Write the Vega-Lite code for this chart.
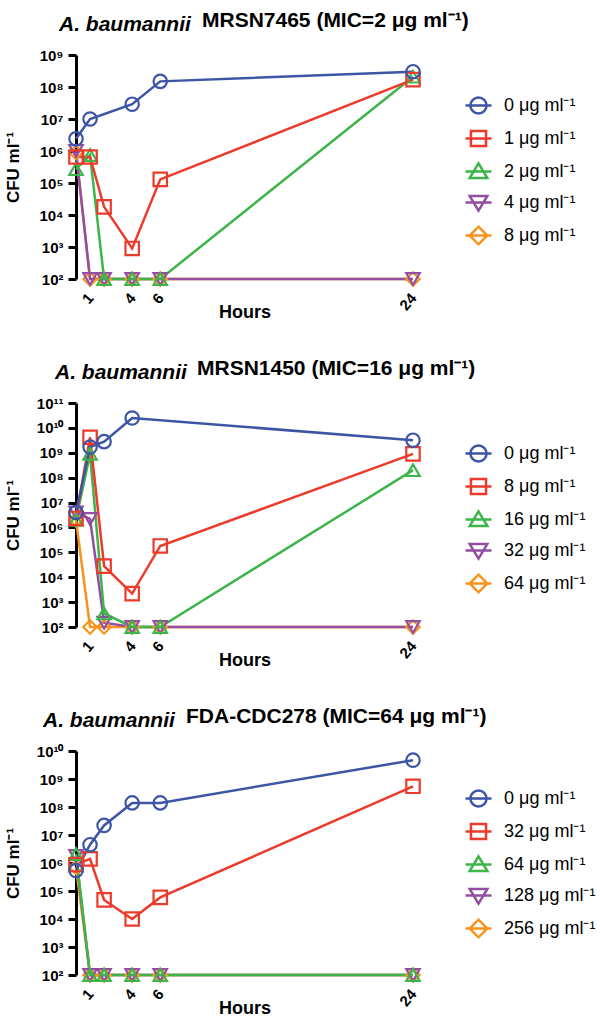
{
  "$schema": "https://vega.github.io/schema/vega-lite/v6.json",
  "padding": {"left": 4, "top": 10, "right": 0, "bottom": 0},
  "background": "white",
  "config": {
    "font": "Liberation Sans",
    "view": {"stroke": null},
    "title": {"font": "Liberation Sans", "fontSize": 21, "fontWeight": "bold", "color": "black", "baseline": "alphabetic", "anchor": "start", "frame": "group"},
    "axis": {"labelFont": "Liberation Sans", "titleFont": "Liberation Sans", "labelColor": "black", "titleColor": "black", "labelFontWeight": "bold", "titleFontWeight": "bold", "grid": false},
    "axisY": {"domainColor": "black", "domainWidth": 3, "tickColor": "black", "tickWidth": 3, "tickSize": 8, "labelFontSize": 15, "labelPadding": 5, "titleFontSize": 17, "titleX": -58, "titleBaseline": "alphabetic", "labelExpr": "'10' + ['⁰','¹','²','³','⁴','⁵','⁶','⁷','⁸','⁹','¹⁰','¹¹'][round(log(datum.value)/LN10)]"},
    "axisX": {"domain": false, "ticks": false, "tickSize": 0, "labelAngle": -50, "labelAlign": "right", "labelBaseline": "middle", "labelPadding": 16, "labelFontSize": 15, "titleFontSize": 18, "titleY": 38, "titleBaseline": "alphabetic"},
    "legend": {"orient": "none", "direction": "vertical", "padding": 0, "symbolSize": 676, "symbolStrokeWidth": 2.5, "labelFontSize": 18, "labelOffset": 11, "rowPadding": 5, "labelColor": "black", "labelFont": "Liberation Sans", "labelLimit": 200}
  },
  "datasets": {
    "p1": [
      {"h": 0, "cfu": 900000, "conc": "8 μg ml⁻¹"},
      {"h": 1, "cfu": 100, "conc": "8 μg ml⁻¹"},
      {"h": 2, "cfu": 100, "conc": "8 μg ml⁻¹"},
      {"h": 4, "cfu": 100, "conc": "8 μg ml⁻¹"},
      {"h": 6, "cfu": 100, "conc": "8 μg ml⁻¹"},
      {"h": 24, "cfu": 100, "conc": "8 μg ml⁻¹"},
      {"h": 0, "cfu": 1000000, "conc": "4 μg ml⁻¹"},
      {"h": 1, "cfu": 100, "conc": "4 μg ml⁻¹"},
      {"h": 2, "cfu": 100, "conc": "4 μg ml⁻¹"},
      {"h": 4, "cfu": 100, "conc": "4 μg ml⁻¹"},
      {"h": 6, "cfu": 100, "conc": "4 μg ml⁻¹"},
      {"h": 24, "cfu": 100, "conc": "4 μg ml⁻¹"},
      {"h": 0, "cfu": 270000, "conc": "2 μg ml⁻¹"},
      {"h": 1, "cfu": 750000, "conc": "2 μg ml⁻¹"},
      {"h": 2, "cfu": 100, "conc": "2 μg ml⁻¹"},
      {"h": 4, "cfu": 100, "conc": "2 μg ml⁻¹"},
      {"h": 6, "cfu": 100, "conc": "2 μg ml⁻¹"},
      {"h": 24, "cfu": 210000000, "conc": "2 μg ml⁻¹"},
      {"h": 0, "cfu": 650000, "conc": "1 μg ml⁻¹"},
      {"h": 1, "cfu": 650000, "conc": "1 μg ml⁻¹"},
      {"h": 2, "cfu": 18000, "conc": "1 μg ml⁻¹"},
      {"h": 4, "cfu": 900, "conc": "1 μg ml⁻¹"},
      {"h": 6, "cfu": 130000, "conc": "1 μg ml⁻¹"},
      {"h": 24, "cfu": 170000000, "conc": "1 μg ml⁻¹"},
      {"h": 0, "cfu": 2400000, "conc": "0 μg ml⁻¹"},
      {"h": 1, "cfu": 10000000, "conc": "0 μg ml⁻¹"},
      {"h": 4, "cfu": 29000000, "conc": "0 μg ml⁻¹"},
      {"h": 6, "cfu": 150000000, "conc": "0 μg ml⁻¹"},
      {"h": 24, "cfu": 300000000, "conc": "0 μg ml⁻¹"}
    ],
    "p2": [
      {"h": 0, "cfu": 2000000, "conc": "64 μg ml⁻¹"},
      {"h": 1, "cfu": 100, "conc": "64 μg ml⁻¹"},
      {"h": 2, "cfu": 100, "conc": "64 μg ml⁻¹"},
      {"h": 4, "cfu": 100, "conc": "64 μg ml⁻¹"},
      {"h": 6, "cfu": 100, "conc": "64 μg ml⁻¹"},
      {"h": 24, "cfu": 100, "conc": "64 μg ml⁻¹"},
      {"h": 0, "cfu": 4000000, "conc": "32 μg ml⁻¹"},
      {"h": 1, "cfu": 2200000, "conc": "32 μg ml⁻¹"},
      {"h": 2, "cfu": 150, "conc": "32 μg ml⁻¹"},
      {"h": 4, "cfu": 100, "conc": "32 μg ml⁻¹"},
      {"h": 6, "cfu": 100, "conc": "32 μg ml⁻¹"},
      {"h": 24, "cfu": 100, "conc": "32 μg ml⁻¹"},
      {"h": 0, "cfu": 2000000, "conc": "16 μg ml⁻¹"},
      {"h": 1, "cfu": 900000000, "conc": "16 μg ml⁻¹"},
      {"h": 2, "cfu": 350, "conc": "16 μg ml⁻¹"},
      {"h": 4, "cfu": 100, "conc": "16 μg ml⁻¹"},
      {"h": 6, "cfu": 100, "conc": "16 μg ml⁻¹"},
      {"h": 24, "cfu": 200000000, "conc": "16 μg ml⁻¹"},
      {"h": 0, "cfu": 2300000, "conc": "8 μg ml⁻¹"},
      {"h": 1, "cfu": 4200000000, "conc": "8 μg ml⁻¹"},
      {"h": 2, "cfu": 28000, "conc": "8 μg ml⁻¹"},
      {"h": 4, "cfu": 2200, "conc": "8 μg ml⁻¹"},
      {"h": 6, "cfu": 180000, "conc": "8 μg ml⁻¹"},
      {"h": 24, "cfu": 900000000, "conc": "8 μg ml⁻¹"},
      {"h": 0, "cfu": 4000000, "conc": "0 μg ml⁻¹"},
      {"h": 1, "cfu": 1700000000, "conc": "0 μg ml⁻¹"},
      {"h": 2, "cfu": 2800000000, "conc": "0 μg ml⁻¹"},
      {"h": 4, "cfu": 25000000000, "conc": "0 μg ml⁻¹"},
      {"h": 24, "cfu": 3200000000, "conc": "0 μg ml⁻¹"}
    ],
    "p3": [
      {"h": 0, "cfu": 700000, "conc": "256 μg ml⁻¹"},
      {"h": 1, "cfu": 100, "conc": "256 μg ml⁻¹"},
      {"h": 2, "cfu": 100, "conc": "256 μg ml⁻¹"},
      {"h": 4, "cfu": 100, "conc": "256 μg ml⁻¹"},
      {"h": 6, "cfu": 100, "conc": "256 μg ml⁻¹"},
      {"h": 24, "cfu": 100, "conc": "256 μg ml⁻¹"},
      {"h": 0, "cfu": 1800000, "conc": "128 μg ml⁻¹"},
      {"h": 1, "cfu": 100, "conc": "128 μg ml⁻¹"},
      {"h": 2, "cfu": 100, "conc": "128 μg ml⁻¹"},
      {"h": 4, "cfu": 100, "conc": "128 μg ml⁻¹"},
      {"h": 6, "cfu": 100, "conc": "128 μg ml⁻¹"},
      {"h": 24, "cfu": 100, "conc": "128 μg ml⁻¹"},
      {"h": 0, "cfu": 2100000, "conc": "64 μg ml⁻¹"},
      {"h": 1, "cfu": 100, "conc": "64 μg ml⁻¹"},
      {"h": 2, "cfu": 100, "conc": "64 μg ml⁻¹"},
      {"h": 4, "cfu": 100, "conc": "64 μg ml⁻¹"},
      {"h": 6, "cfu": 100, "conc": "64 μg ml⁻¹"},
      {"h": 24, "cfu": 100, "conc": "64 μg ml⁻¹"},
      {"h": 0, "cfu": 870000, "conc": "32 μg ml⁻¹"},
      {"h": 1, "cfu": 1400000, "conc": "32 μg ml⁻¹"},
      {"h": 2, "cfu": 48000, "conc": "32 μg ml⁻¹"},
      {"h": 4, "cfu": 10000, "conc": "32 μg ml⁻¹"},
      {"h": 6, "cfu": 59000, "conc": "32 μg ml⁻¹"},
      {"h": 24, "cfu": 550000000, "conc": "32 μg ml⁻¹"},
      {"h": 0, "cfu": 540000, "conc": "0 μg ml⁻¹"},
      {"h": 1, "cfu": 4500000, "conc": "0 μg ml⁻¹"},
      {"h": 2, "cfu": 22000000, "conc": "0 μg ml⁻¹"},
      {"h": 4, "cfu": 140000000, "conc": "0 μg ml⁻¹"},
      {"h": 6, "cfu": 140000000, "conc": "0 μg ml⁻¹"},
      {"h": 24, "cfu": 4700000000, "conc": "0 μg ml⁻¹"}
    ]
  },
  "spacing": 37,
  "resolve": {"scale": {"color": "independent", "shape": "independent"}},
  "vconcat": [
    {
      "title": {"text": "MRSN7465 (MIC=2 μg ml⁻¹)", "dx": 126, "dy": 17, "offset": 0},
      "resolve": {"scale": {"color": "independent", "shape": "independent"}},
      "vconcat": [
        {
          "width": 337, "height": 224,
          "data": {"name": "p1"},
          "title": {"text": "A. baumannii", "fontStyle": "italic", "dx": -17, "offset": 13},
          "encoding": {
            "x": {"field": "h", "type": "quantitative", "scale": {"domain": [0, 24], "nice": false, "zero": false}, "axis": {"values": [1, 4, 6, 24], "title": "Hours"}},
            "y": {"field": "cfu", "type": "quantitative", "scale": {"type": "log", "domain": [100, 1000000000], "nice": false}, "axis": {"values": [100, 1000, 10000, 100000, 1000000, 10000000, 100000000, 1000000000], "title": "CFU ml⁻¹"}}
          },
          "resolve": {"scale": {"color": "independent", "shape": "independent"}},
          "layer": [
            {
              "mark": {"type": "line", "strokeWidth": 2.5},
              "encoding": {"color": {"field": "conc", "type": "nominal", "scale": {"domain": ["0 μg ml⁻¹", "1 μg ml⁻¹", "2 μg ml⁻¹", "4 μg ml⁻¹", "8 μg ml⁻¹"], "range": ["#3D55A5", "#EC3A2B", "#3DB54A", "#924FA2", "#F7941D"]}, "legend": null}}
            },
            {
              "mark": {"type": "point", "filled": false, "strokeWidth": 2.2, "size": 180, "opacity": 1},
              "encoding": {
                "color": {"field": "conc", "type": "nominal", "scale": {"domain": ["0 μg ml⁻¹", "1 μg ml⁻¹", "2 μg ml⁻¹", "4 μg ml⁻¹", "8 μg ml⁻¹"], "range": ["#3D55A5", "#EC3A2B", "#3DB54A", "#924FA2", "#F7941D"]}, "legend": null},
                "shape": {"field": "conc", "type": "nominal", "scale": {"domain": ["0 μg ml⁻¹", "1 μg ml⁻¹", "2 μg ml⁻¹", "4 μg ml⁻¹", "8 μg ml⁻¹"], "range": ["circle", "square", "triangle-up", "triangle-down", "diamond"]}, "legend": null}
              }
            },
            {
              "mark": {"type": "point", "filled": false, "strokeWidth": 2.5, "opacity": 0},
              "encoding": {
                "color": {"field": "conc", "type": "nominal", "scale": {"domain": ["0 μg ml⁻¹", "1 μg ml⁻¹", "2 μg ml⁻¹", "4 μg ml⁻¹", "8 μg ml⁻¹"], "range": ["#3D55A5", "#EC3A2B", "#3DB54A", "#924FA2", "#F7941D"]}, "legend": {"title": null, "legendX": 388, "legendY": 36}},
                "shape": {"field": "conc", "type": "nominal", "scale": {"domain": ["0 μg ml⁻¹", "1 μg ml⁻¹", "2 μg ml⁻¹", "4 μg ml⁻¹", "8 μg ml⁻¹"], "range": ["M-1,0H1M0.62,0A0.62,0.62,0,1,1,-0.62,0A0.62,0.62,0,1,1,0.62,0Z", "M-1,0H1M-0.58,-0.58H0.58V0.58H-0.58Z", "M-1,0H1M0,-0.62L0.68,0.5L-0.68,0.5Z", "M-1,0H1M0,0.62L0.68,-0.5L-0.68,-0.5Z", "M-1,0H1M0,-0.68L0.68,0L0,0.68L-0.68,0Z"]}, "legend": {"title": null, "legendX": 388, "legendY": 36}}
              }
            }
          ]
        }
      ]
    },
    {
      "title": {"text": "MRSN1450 (MIC=16 μg ml⁻¹)", "dx": 121, "dy": 17, "offset": 0},
      "resolve": {"scale": {"color": "independent", "shape": "independent"}},
      "vconcat": [
        {
          "width": 337, "height": 224,
          "data": {"name": "p2"},
          "title": {"text": "A. baumannii", "fontStyle": "italic", "dx": -21, "offset": 13},
          "encoding": {
            "x": {"field": "h", "type": "quantitative", "scale": {"domain": [0, 24], "nice": false, "zero": false}, "axis": {"values": [1, 4, 6, 24], "title": "Hours"}},
            "y": {"field": "cfu", "type": "quantitative", "scale": {"type": "log", "domain": [100, 100000000000], "nice": false}, "axis": {"values": [100, 1000, 10000, 100000, 1000000, 10000000, 100000000, 1000000000, 10000000000, 100000000000], "title": "CFU ml⁻¹"}}
          },
          "resolve": {"scale": {"color": "independent", "shape": "independent"}},
          "layer": [
            {
              "mark": {"type": "line", "strokeWidth": 2.5},
              "encoding": {"color": {"field": "conc", "type": "nominal", "scale": {"domain": ["0 μg ml⁻¹", "8 μg ml⁻¹", "16 μg ml⁻¹", "32 μg ml⁻¹", "64 μg ml⁻¹"], "range": ["#3D55A5", "#EC3A2B", "#3DB54A", "#924FA2", "#F7941D"]}, "legend": null}}
            },
            {
              "mark": {"type": "point", "filled": false, "strokeWidth": 2.2, "size": 180, "opacity": 1},
              "encoding": {
                "color": {"field": "conc", "type": "nominal", "scale": {"domain": ["0 μg ml⁻¹", "8 μg ml⁻¹", "16 μg ml⁻¹", "32 μg ml⁻¹", "64 μg ml⁻¹"], "range": ["#3D55A5", "#EC3A2B", "#3DB54A", "#924FA2", "#F7941D"]}, "legend": null},
                "shape": {"field": "conc", "type": "nominal", "scale": {"domain": ["0 μg ml⁻¹", "8 μg ml⁻¹", "16 μg ml⁻¹", "32 μg ml⁻¹", "64 μg ml⁻¹"], "range": ["circle", "square", "triangle-up", "triangle-down", "diamond"]}, "legend": null}
              }
            },
            {
              "mark": {"type": "point", "filled": false, "strokeWidth": 2.5, "opacity": 0},
              "encoding": {
                "color": {"field": "conc", "type": "nominal", "scale": {"domain": ["0 μg ml⁻¹", "8 μg ml⁻¹", "16 μg ml⁻¹", "32 μg ml⁻¹", "64 μg ml⁻¹"], "range": ["#3D55A5", "#EC3A2B", "#3DB54A", "#924FA2", "#F7941D"]}, "legend": {"title": null, "legendX": 388, "legendY": 36}},
                "shape": {"field": "conc", "type": "nominal", "scale": {"domain": ["0 μg ml⁻¹", "8 μg ml⁻¹", "16 μg ml⁻¹", "32 μg ml⁻¹", "64 μg ml⁻¹"], "range": ["M-1,0H1M0.62,0A0.62,0.62,0,1,1,-0.62,0A0.62,0.62,0,1,1,0.62,0Z", "M-1,0H1M-0.58,-0.58H0.58V0.58H-0.58Z", "M-1,0H1M0,-0.62L0.68,0.5L-0.68,0.5Z", "M-1,0H1M0,0.62L0.68,-0.5L-0.68,-0.5Z", "M-1,0H1M0,-0.68L0.68,0L0,0.68L-0.68,0Z"]}, "legend": {"title": null, "legendX": 388, "legendY": 36}}
              }
            }
          ]
        }
      ]
    },
    {
      "title": {"text": "FDA-CDC278 (MIC=64 μg ml⁻¹)", "dx": 110, "dy": 17, "offset": 0},
      "resolve": {"scale": {"color": "independent", "shape": "independent"}},
      "vconcat": [
        {
          "width": 337, "height": 224,
          "data": {"name": "p3"},
          "title": {"text": "A. baumannii", "fontStyle": "italic", "dx": -33, "offset": 13},
          "encoding": {
            "x": {"field": "h", "type": "quantitative", "scale": {"domain": [0, 24], "nice": false, "zero": false}, "axis": {"values": [1, 4, 6, 24], "title": "Hours"}},
            "y": {"field": "cfu", "type": "quantitative", "scale": {"type": "log", "domain": [100, 10000000000], "nice": false}, "axis": {"values": [100, 1000, 10000, 100000, 1000000, 10000000, 100000000, 1000000000, 10000000000], "title": "CFU ml⁻¹"}}
          },
          "resolve": {"scale": {"color": "independent", "shape": "independent"}},
          "layer": [
            {
              "mark": {"type": "line", "strokeWidth": 2.5},
              "encoding": {"color": {"field": "conc", "type": "nominal", "scale": {"domain": ["0 μg ml⁻¹", "32 μg ml⁻¹", "64 μg ml⁻¹", "128 μg ml⁻¹", "256 μg ml⁻¹"], "range": ["#3D55A5", "#EC3A2B", "#3DB54A", "#924FA2", "#F7941D"]}, "legend": null}}
            },
            {
              "mark": {"type": "point", "filled": false, "strokeWidth": 2.2, "size": 180, "opacity": 1},
              "encoding": {
                "color": {"field": "conc", "type": "nominal", "scale": {"domain": ["0 μg ml⁻¹", "32 μg ml⁻¹", "64 μg ml⁻¹", "128 μg ml⁻¹", "256 μg ml⁻¹"], "range": ["#3D55A5", "#EC3A2B", "#3DB54A", "#924FA2", "#F7941D"]}, "legend": null},
                "shape": {"field": "conc", "type": "nominal", "scale": {"domain": ["0 μg ml⁻¹", "32 μg ml⁻¹", "64 μg ml⁻¹", "128 μg ml⁻¹", "256 μg ml⁻¹"], "range": ["circle", "square", "triangle-up", "triangle-down", "diamond"]}, "legend": null}
              }
            },
            {
              "mark": {"type": "point", "filled": false, "strokeWidth": 2.5, "opacity": 0},
              "encoding": {
                "color": {"field": "conc", "type": "nominal", "scale": {"domain": ["0 μg ml⁻¹", "32 μg ml⁻¹", "64 μg ml⁻¹", "128 μg ml⁻¹", "256 μg ml⁻¹"], "range": ["#3D55A5", "#EC3A2B", "#3DB54A", "#924FA2", "#F7941D"]}, "legend": {"title": null, "legendX": 388, "legendY": 33}},
                "shape": {"field": "conc", "type": "nominal", "scale": {"domain": ["0 μg ml⁻¹", "32 μg ml⁻¹", "64 μg ml⁻¹", "128 μg ml⁻¹", "256 μg ml⁻¹"], "range": ["M-1,0H1M0.62,0A0.62,0.62,0,1,1,-0.62,0A0.62,0.62,0,1,1,0.62,0Z", "M-1,0H1M-0.58,-0.58H0.58V0.58H-0.58Z", "M-1,0H1M0,-0.62L0.68,0.5L-0.68,0.5Z", "M-1,0H1M0,0.62L0.68,-0.5L-0.68,-0.5Z", "M-1,0H1M0,-0.68L0.68,0L0,0.68L-0.68,0Z"]}, "legend": {"title": null, "legendX": 388, "legendY": 33}}
              }
            }
          ]
        }
      ]
    }
  ]
}
